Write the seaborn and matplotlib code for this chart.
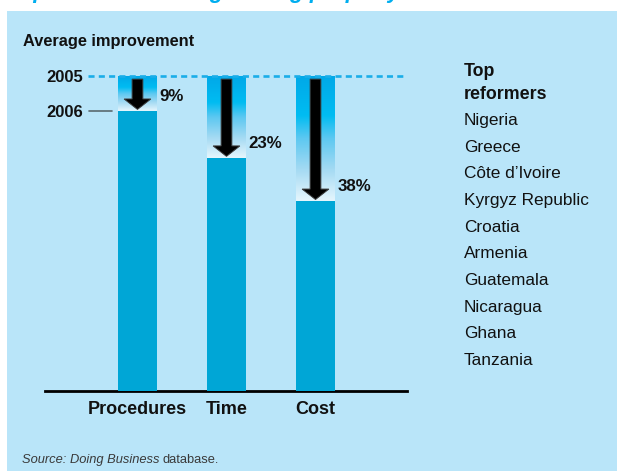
import matplotlib
matplotlib.use("Agg")
import numpy as np
import pandas as pd
import seaborn as sns
import matplotlib.pyplot as plt
from matplotlib.colors import LinearSegmentedColormap
from matplotlib.patches import FancyArrow, Rectangle

# data (2005 level = 100)
measures = ["Procedures", "Time", "Cost"]
level_2006 = [88.9, 74.0, 60.3]
improvement = [9, 23, 38]
years = ["2005", "2006"]
reformers = ["Nigeria", "Greece", "Côte d\u2019Ivoire", "Kyrgyz Republic", "Croatia",
             "Armenia", "Guatemala", "Nicaragua", "Ghana", "Tanzania"]

PANEL = "#B9E5F9"
BAR = "#00A6D6"
CYAN = "#1AADE8"
W, H = 617, 471

sns.set_theme(style="white")
plt.rcParams["font.family"] = ["Liberation Sans", "DejaVu Sans"]

fig = plt.figure(figsize=(W / 100, H / 100), dpi=100)
fig.patch.set_facecolor("white")
fig.patches.append(Rectangle((7 / W, 0), 1, (H - 11) / H, transform=fig.transFigure,
                             facecolor=PANEL, edgecolor="none", zorder=-10))

# cut-off heading at the very top (only the descenders show in the reference)
fig.text(7 / W, 1 + 2.0 / H, "Top reformers in registering property", color="#00AEEF",
         fontsize=16, fontweight="bold", style="italic", va="baseline", ha="left")

ax = fig.add_axes([45 / W, (H - 391) / H, (407 - 45) / W, 315 / H])
ax.set_facecolor("none")

df = pd.DataFrame({"measure": measures, "level": level_2006})
bw = 0.438
sns.barplot(data=df, x="measure", y="level", color=BAR, saturation=1, width=bw,
            linewidth=0, ax=ax, zorder=3)

grad_cmap = LinearSegmentedColormap.from_list(
    "fade", [(0.0, "#E6F6FD"), (0.25, "#A4DAF3"), (0.5, "#5CC8F1"),
             (0.68, "#00BCF2"), (1.0, "#00A8E8")])
grad = np.linspace(0, 1, 256).reshape(-1, 1)

for i, (top, pct) in enumerate(zip(level_2006, improvement)):
    ax.imshow(grad, cmap=grad_cmap, extent=[i - bw / 2, i + bw / 2, top, 100],
              origin="lower", aspect="auto", zorder=2, interpolation="bicubic")
    ax.add_patch(FancyArrow(i, 99.0, 0, top + 0.5 - 99.0, width=0.12, head_width=0.3,
                            head_length=3.3, length_includes_head=True,
                            facecolor="black", edgecolor="#3a3a3a", lw=0.7, zorder=4))
    ax.text(i + bw / 2 + 0.025, top + 5.2, f"{pct}%", ha="left", va="center_baseline",
            fontsize=12.2, fontweight="bold", color="#111111")

ax.set_xlim(-1.039, 3.028)
ax.set_ylim(0, 100)

# 2005 reference line and year labels
ax.axhline(100, xmin=(88 - 45) / 362, xmax=(404 - 45) / 362, color=CYAN, lw=1.9,
           ls=(0, (2.3, 1.6)), zorder=5, clip_on=False)
ytr = ax.get_yaxis_transform()
for yr, lev in zip(years, [100, level_2006[0]]):
    ax.text(0.105, lev, yr, transform=ytr, ha="right", va="center_baseline",
            fontsize=12, fontweight="bold", color="#111111", clip_on=False)
ax.plot([0.122, 0.185], [level_2006[0]] * 2, transform=ytr, color="#5a6a70", lw=1.2)

sns.despine(ax=ax, left=True, top=True, right=True)
ax.spines["bottom"].set_color("black")
ax.spines["bottom"].set_linewidth(2)
ax.set_yticks([])
ax.set_xlabel("")
ax.set_ylabel("")
ax.tick_params(axis="x", length=0, pad=7.5)
for lab in ax.get_xticklabels():
    lab.set_fontsize(13)
    lab.set_fontweight("bold")
    lab.set_color("#111111")

fig.text(23 / W, 1 - 46 / H, "Average improvement", fontsize=11.8, fontweight="bold",
         color="#111111", va="baseline")

# right-hand list
fig.text(464 / W, 1 - 76 / H, "Top", fontsize=12.8, fontweight="bold", color="#111111",
         va="baseline")
fig.text(464 / W, 1 - 99 / H, "reformers", fontsize=12.8, fontweight="bold",
         color="#111111", va="baseline")
for k, name in enumerate(reformers):
    fig.text(464 / W, 1 - (125 + 26.67 * k) / H, name, fontsize=12.4, color="#111111",
             va="baseline")

# source line
r = fig.canvas.get_renderer()
s1 = fig.text(22 / W, 1 - 463 / H, "Source: Doing Business", fontsize=9.3, style="italic",
              color="#3a3a3a", va="baseline")
bb = s1.get_window_extent(renderer=r)
fig.text(bb.x1 / W + 3 / W, 1 - 463 / H, "database.", fontsize=9.3, color="#3a3a3a",
         va="baseline")

fig.savefig("out.png", dpi=100)
